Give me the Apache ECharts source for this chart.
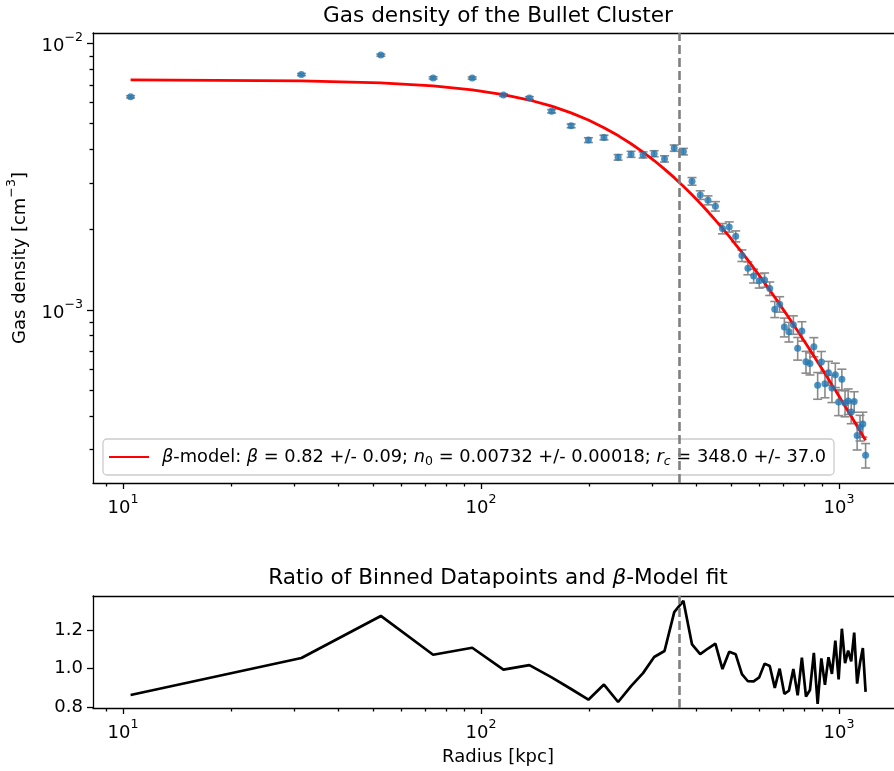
<!DOCTYPE html>
<html>
<head>
<meta charset="utf-8">
<script src="https://cdn.jsdelivr.net/npm/echarts@6/dist/echarts.min.js"></script>
<style>html,body{margin:0;padding:0;background:#fff;overflow:hidden}#chart{width:894px;height:771px}</style>
</head>
<body>
<div id="chart"></div>
<script>
// ---------------- data ----------------
const radius = [10.5, 31.5, 52.5, 73.5, 94.5, 115.5, 136.5, 157.5, 178.5, 199.5,
  220.5, 241.5, 262.5, 283.5, 304.5, 325.5, 346.5, 367.5, 388.5, 409.5,
  430.5, 451.5, 472.5, 493.5, 514.5, 535.5, 556.5, 577.5, 598.5, 619.5,
  640.5, 661.5, 682.5, 703.5, 724.5, 745.5, 766.5, 787.5, 808.5, 829.5,
  850.5, 871.5, 892.5, 913.5, 934.5, 955.5, 976.5, 997.5, 1018.5, 1039.5,
  1060.5, 1081.5, 1102.5, 1123.5, 1144.5, 1165.5, 1186.5];

const density = [0.00631, 0.00765, 0.00905, 0.00743, 0.00742, 0.00641, 0.00625, 0.00557, 0.00491, 0.00434,
  0.00444, 0.00374, 0.00384, 0.00382, 0.00386, 0.00369, 0.00405, 0.00393, 0.00304, 0.00270,
  0.00258, 0.00245, 0.00202, 0.00205, 0.00189, 0.00160, 0.001435, 0.001342, 0.001288, 0.001296,
  0.001203, 0.001006, 0.001051, 0.000862, 0.000828, 0.000880, 0.000718, 0.000833, 0.000639, 0.000630,
  0.000727, 0.000522, 0.000638, 0.000528, 0.000581, 0.000509, 0.000571, 0.000451, 0.000549, 0.000447,
  0.000455, 0.000414, 0.000453, 0.000338, 0.000362, 0.000373, 0.000285];

const densityErr = [0.00006, 0.00007, 0.00008, 0.00007, 0.00007, 0.00007, 0.00007, 0.00008, 0.00008, 0.00009,
  0.00009, 0.00009, 0.00010, 0.00010, 0.00010, 0.00010, 0.00011, 0.00011, 0.00010, 0.00010,
  0.00010, 0.00010, 0.00009, 0.00009, 0.00009, 0.00008, 0.00008, 0.00008, 0.00008, 0.00008,
  0.00007, 0.00007, 0.00007, 0.00007, 0.00007, 0.00007, 0.00007, 0.00007, 0.00006, 0.00006,
  0.00006, 0.00006, 0.00006, 0.00006, 0.00006, 0.00006, 0.00006, 0.00005, 0.00005, 0.00005,
  0.00005, 0.00004, 0.00004, 0.00004, 0.00004, 0.00004, 0.00003];

const modelDensity = [0.007312, 0.007247, 0.007120, 0.006937, 0.006707, 0.006437, 0.006139, 0.005821, 0.005492, 0.005162,
  0.004833, 0.004514, 0.004206, 0.003915, 0.003638, 0.003379, 0.003137, 0.002913, 0.002705, 0.002514,
  0.002337, 0.002174, 0.002024, 0.001887, 0.001760, 0.001644, 0.001537, 0.001438, 0.001348, 0.001264,
  0.001187, 0.001116, 0.001051, 0.000990, 0.000934, 0.000882, 0.000833, 0.000788, 0.000747, 0.000708,
  0.000672, 0.000638, 0.000606, 0.000577, 0.000549, 0.000523, 0.000499, 0.000477, 0.000455, 0.000435,
  0.000416, 0.000399, 0.000382, 0.000366, 0.000351, 0.000337, 0.000324];

const ratio = [0.864, 1.055, 1.272, 1.072, 1.108, 0.995, 1.018, 0.955, 0.895, 0.840,
  0.918, 0.828, 0.910, 0.977, 1.060, 1.091, 1.292, 1.350, 1.125, 1.075,
  1.104, 1.129, 0.998, 1.087, 1.074, 0.972, 0.935, 0.934, 0.955, 1.026,
  1.014, 0.901, 1.000, 0.870, 0.886, 0.998, 0.862, 1.057, 0.856, 0.890,
  1.082, 0.818, 1.053, 0.916, 1.059, 0.973, 1.145, 0.945, 1.206, 1.028,
  1.093, 1.038, 1.186, 0.923, 1.030, 1.106, 0.880];

const markerRadius = 359;            // dashed vertical line (kpc)
const xMajorTicks = [10, 100, 1000];
const xMinorTicks = [9, 20, 30, 40, 50, 60, 70, 80, 90, 200, 300, 400, 500, 600, 700, 800, 900];
const yMajorTicks = [0.001, 0.01];
const yMinorTicks = [0.0003, 0.0004, 0.0005, 0.0006, 0.0007, 0.0008, 0.0009,
  0.002, 0.003, 0.004, 0.005, 0.006, 0.007, 0.008, 0.009];
const ratioTicks = [0.8, 1.0, 1.2];

const titleTop = 'Gas density of the Bullet Cluster';
const titleBottom = 'Ratio of Binned Datapoints and {i|β}-Model fit';
const legendLabel = '{pad|}{t|}{i|β}{t|-model: }{i|β}{t| = 0.82 +/- 0.09; }{i|n}{sub|0}{t| = 0.00732 +/- 0.00018; }{i|r}{isub|c}{t| = 348.0 +/- 37.0}';
const yName = '{t|Gas density [cm}{s|−3}{t|]}';
const xName = 'Radius [kpc]';

// ---------------- chart ----------------
const FONT = 'DejaVu Sans';
const chart = echarts.init(document.getElementById('chart'), null, {renderer: 'canvas'});

const supRich = {
  b: {fontFamily: FONT, fontSize: 18, color: '#000', lineHeight: 24, verticalAlign: 'bottom'},
  s: {fontFamily: FONT, fontSize: 12.6, color: '#000', lineHeight: 13, verticalAlign: 'top'}
};
function logLabel(v) {
  const e = Math.round(Math.log10(v));
  return '{b|10}{s|' + String(e).replace('-', '\u2212') + '}';
}

const X_MIN = 8.245, X_MAX = 1509;
const Y_MIN = 0.000224, Y_MAX = 0.010956;
const R_MIN = 0.797, R_MAX = 1.375;

const tickStyle = {color: '#000', width: 1.3};
const spine = {show: true, onZero: false, lineStyle: {color: '#000', width: 1.3}};

function xAxesFor(grid, withName) {
  const major = {
    type: 'log', logBase: 10, gridIndex: grid, position: 'bottom', min: X_MIN, max: X_MAX,
    axisLine: spine, splitLine: {show: false},
    axisTick: {show: true, customValues: xMajorTicks, length: 6, lineStyle: tickStyle},
    axisLabel: {show: true, customValues: xMajorTicks, formatter: logLabel, rich: supRich, margin: 10}
  };
  if (withName) {
    major.name = xName;
    major.nameLocation = 'middle';
    major.nameGap = 40;
    major.nameTextStyle = {fontFamily: FONT, fontSize: 18, color: '#000'};
  }
  const minor = {
    type: 'log', logBase: 10, gridIndex: grid, position: 'bottom', min: X_MIN, max: X_MAX,
    axisLine: {show: false}, splitLine: {show: false},
    axisTick: {show: true, customValues: xMinorTicks, length: 3.5, lineStyle: tickStyle},
    axisLabel: {show: false}
  };
  const topSpine = {
    type: 'log', logBase: 10, gridIndex: grid, position: 'top', min: X_MIN, max: X_MAX,
    axisLine: spine, splitLine: {show: false}, axisTick: {show: false}, axisLabel: {show: false}
  };
  return [major, minor, topSpine];
}

const gridCommon = {show: false, containLabel: false, outerBoundsMode: 'none'};

const option = {
  animation: false,
  backgroundColor: '#fff',
  grid: [
    Object.assign({left: 93, top: 33, width: 810, height: 450}, gridCommon),
    Object.assign({left: 93, top: 596, width: 810, height: 112}, gridCommon)
  ],
  graphic: [
    {type: 'text', x: 498, y: 16, style: {text: titleTop, fontFamily: FONT, fontSize: 21.6, fill: '#000', align: 'center', verticalAlign: 'middle'}},
    {type: 'text', x: 498, y: 578, style: {text: titleBottom, fontFamily: FONT, fontSize: 21.6, fill: '#000', align: 'center', verticalAlign: 'middle',
      rich: {i: {fontFamily: FONT, fontSize: 21.6, fontStyle: 'italic', fill: '#000'}}}}
  ],
  xAxis: [].concat(xAxesFor(0, false), xAxesFor(1, true)),
  yAxis: [
    {type: 'log', logBase: 10, gridIndex: 0, position: 'left', min: Y_MIN, max: Y_MAX,
      axisLine: spine, splitLine: {show: false},
      axisTick: {show: true, customValues: yMajorTicks, length: 6, lineStyle: tickStyle},
      axisLabel: {show: true, customValues: yMajorTicks, formatter: logLabel, rich: supRich, margin: 10},
      name: yName, nameLocation: 'middle', nameGap: 64,
      nameTextStyle: {rich: {
        t: {fontFamily: FONT, fontSize: 18, color: '#000', lineHeight: 24, verticalAlign: 'bottom'},
        s: {fontFamily: FONT, fontSize: 12.6, color: '#000', lineHeight: 13, verticalAlign: 'top'}}}
    },
    {type: 'log', logBase: 10, gridIndex: 0, position: 'left', min: Y_MIN, max: Y_MAX,
      axisLine: {show: false}, splitLine: {show: false},
      axisTick: {show: true, customValues: yMinorTicks, length: 3.5, lineStyle: tickStyle},
      axisLabel: {show: false}
    },
    {type: 'value', gridIndex: 1, position: 'left', min: R_MIN, max: R_MAX,
      axisLine: spine, splitLine: {show: false},
      axisTick: {show: true, customValues: ratioTicks, length: 6, lineStyle: tickStyle},
      axisLabel: {show: true, customValues: ratioTicks, formatter: v => v.toFixed(1), margin: 10,
        fontFamily: FONT, fontSize: 18, color: '#000'}
    }
  ],
  legend: {
    show: true, left: 103, top: 439, orient: 'horizontal', selectedMode: false,
    data: [{name: 'fit', itemStyle: {opacity: 0}}],
    itemWidth: 40, itemHeight: 3,
    padding: [7, 8, 7, 5],
    backgroundColor: 'rgba(255,255,255,0.8)', borderColor: '#cccccc', borderWidth: 1.3, borderRadius: 4,
    formatter: () => legendLabel,
    textStyle: {fontFamily: FONT, fontSize: 17.8, color: '#000', lineHeight: 22, rich: {
      pad: {width: 8, lineHeight: 22},
      t: {fontFamily: FONT, fontSize: 17.8, color: '#000', lineHeight: 22},
      i: {fontFamily: FONT, fontSize: 17.8, fontStyle: 'italic', color: '#000', lineHeight: 22},
      sub: {fontFamily: FONT, fontSize: 12.5, color: '#000', lineHeight: 14, verticalAlign: 'bottom'},
      isub: {fontFamily: FONT, fontSize: 12.5, fontStyle: 'italic', color: '#000', lineHeight: 14, verticalAlign: 'bottom'}
    }}
  },
  series: [
    {
      type: 'custom', name: 'errors', xAxisIndex: 0, yAxisIndex: 0, z: 2, silent: true,
      data: radius.map((r, i) => [r, density[i], densityErr[i]]),
      encode: {x: 0, y: 1},
      renderItem: function (params, api) {
        const x = api.value(0), y = api.value(1), e = api.value(2);
        const top = api.coord([x, y + e]);
        const bot = api.coord([x, y - e]);
        const cw = 4.5;
        const st = {stroke: '#8a8a8a', lineWidth: 1.6};
        return {type: 'group', children: [
          {type: 'line', shape: {x1: top[0], y1: top[1], x2: bot[0], y2: bot[1]}, style: st},
          {type: 'line', shape: {x1: top[0] - cw, y1: top[1], x2: top[0] + cw, y2: top[1]}, style: st},
          {type: 'line', shape: {x1: bot[0] - cw, y1: bot[1], x2: bot[0] + cw, y2: bot[1]}, style: st}
        ]};
      }
    },
    {
      type: 'line', name: 'fit', xAxisIndex: 0, yAxisIndex: 0, z: 3,
      data: radius.map((r, i) => [r, modelDensity[i]]),
      symbol: 'none', smooth: false,
      lineStyle: {color: '#ff0000', width: 2.8}, itemStyle: {color: '#ff0000'},
      markLine: {silent: true, symbol: ['none', 'none'], label: {show: false},
        lineStyle: {color: '#808080', width: 2.6, type: [9, 4]},
        data: [{xAxis: markerRadius}]}
    },
    {
      type: 'scatter', name: 'data', xAxisIndex: 0, yAxisIndex: 0, z: 4,
      data: radius.map((r, i) => [r, density[i]]),
      symbol: 'circle', symbolSize: 7, itemStyle: {color: '#1f77b4'}
    },
    {
      type: 'line', name: 'ratio', xAxisIndex: 3, yAxisIndex: 2, z: 3,
      data: radius.map((r, i) => [r, ratio[i]]),
      symbol: 'none', lineStyle: {color: '#000', width: 2.7},
      markLine: {silent: true, symbol: ['none', 'none'], label: {show: false},
        lineStyle: {color: '#808080', width: 2.6, type: [9, 4]},
        data: [{xAxis: markerRadius}]}
    }
  ]
};
chart.setOption(option);
</script>
</body>
</html>
